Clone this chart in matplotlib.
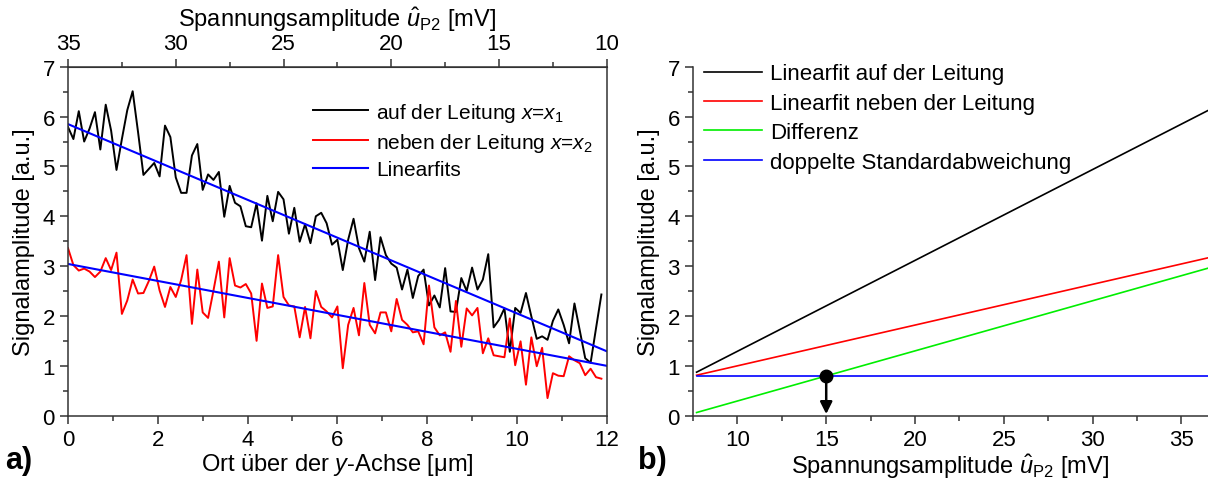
import numpy as np
import matplotlib
matplotlib.use("Agg")
import matplotlib.pyplot as plt
from matplotlib.ticker import MultipleLocator

plt.rcParams['font.family'] = ['Liberation Sans', 'DejaVu Sans']
plt.rcParams['mathtext.fontset'] = 'custom'
plt.rcParams['mathtext.rm'] = 'Liberation Sans'
plt.rcParams['mathtext.it'] = 'Liberation Sans:italic'

# position along y axis [um], step 0.12
pos_step = 0.12
# signal on the line (x = x1)
signal_on = [5.79, 5.55, 6.11, 5.50, 5.76, 6.09, 5.34, 6.24, 5.72, 4.93,
             5.55, 6.13, 6.51, 5.69, 4.83, 4.95, 5.07, 4.80, 5.82, 5.59,
             4.78, 4.47, 4.47, 5.22, 5.45, 4.53, 4.84, 4.73, 4.89, 3.99,
             4.61, 4.27, 4.20, 3.80, 3.78, 4.26, 3.51, 4.41, 3.90, 4.49,
             4.34, 3.65, 4.17, 3.49, 3.84, 3.46, 4.00, 4.07, 3.86, 3.43,
             3.53, 2.92, 3.53, 3.95, 3.36, 3.09, 3.69, 2.72, 3.58, 3.22,
             3.05, 2.97, 2.53, 2.93, 2.36, 2.80, 2.93, 2.21, 2.41, 2.17,
             2.96, 2.09, 2.08, 2.76, 2.50, 2.97, 2.53, 2.73, 3.24, 1.77,
             1.92, 2.15, 1.28, 2.16, 2.06, 2.46, 1.99, 1.54, 1.59, 1.52,
             1.90, 2.13, 1.82, 1.45, 2.25, 1.70, 1.15, 1.06, 1.75, 2.43]
# signal next to the line (x = x2)
signal_off = [3.36, 3.02, 2.91, 2.95, 2.89, 2.78, 2.89, 3.16, 2.92, 3.27,
              2.04, 2.31, 2.73, 2.45, 2.46, 2.70, 2.99, 2.51, 2.18, 2.58,
              2.38, 2.72, 3.22, 1.84, 2.93, 2.07, 1.96, 2.51, 3.09, 1.97,
              3.16, 2.61, 2.57, 2.64, 2.45, 1.50, 2.65, 2.16, 2.19, 3.22,
              2.38, 2.21, 2.19, 1.57, 2.18, 1.55, 2.50, 2.18, 2.09, 1.97,
              2.19, 0.95, 1.82, 2.16, 1.61, 2.66, 1.82, 1.65, 2.07, 2.07,
              1.69, 2.34, 1.92, 1.82, 1.67, 1.69, 1.43, 2.61, 1.77, 1.61,
              1.67, 1.28, 2.30, 1.38, 2.15, 2.01, 2.16, 1.25, 1.55, 1.21,
              1.19, 1.17, 1.95, 1.01, 1.49, 0.62, 1.57, 0.99, 1.36, 0.35,
              0.85, 0.80, 0.79, 1.19, 1.11, 1.05, 0.81, 0.94, 0.77, 0.74]

# linear fits vs voltage amplitude (slope, intercept)
fit_on = (0.1824, -0.534)
fit_off = (0.0818, 0.18)
threshold = 0.8          # twice the standard deviation
u_detect = 15.0

# voltage <-> position mapping (35 mV at 0 um, 10 mV at 12 um)
def pos2u(x):
    return 35 - 25 / 12 * np.asarray(x)

def u2pos(u):
    return (35 - np.asarray(u)) * 12 / 25

pos = np.arange(len(signal_on)) * pos_step

fig = plt.figure(figsize=(12.08, 4.81), dpi=100)
ax1 = fig.add_axes([0.0563, 0.134, 0.446, 0.725])
ax2 = fig.add_axes([0.5737, 0.134, 0.4263, 0.725])

fs = 16      # ticks
labfs = 17   # axis labels

def style_ticks(a):
    a.tick_params(which='both', direction='out', labelsize=fs, color='#333333', width=1.1)
    a.tick_params(which='major', length=6)
    a.tick_params(which='minor', length=3.5)

# ---- a)
ax1.plot(pos, signal_on, color='black', lw=1.4, label='auf der Leitung $x$=$x_1$')
ax1.plot(pos, signal_off, color='red', lw=1.4, label='neben der Leitung $x$=$x_2$')
xf = np.array([0, 12])
ax1.plot(xf, fit_on[0] * pos2u(xf) + fit_on[1], color='blue', lw=1.5, label='Linearfits')
ax1.plot(xf, fit_off[0] * pos2u(xf) + fit_off[1], color='blue', lw=1.5)
ax1.set_xlim(0, 12)
ax1.set_ylim(0, 7)
ax1.xaxis.set_major_locator(MultipleLocator(2))
ax1.xaxis.set_minor_locator(MultipleLocator(1))
ax1.yaxis.set_major_locator(MultipleLocator(1))
ax1.yaxis.set_minor_locator(MultipleLocator(0.5))
style_ticks(ax1)
ax1.set_xlabel('Ort über der $y$-Achse [μm]', fontsize=labfs, labelpad=1)
ax1.set_ylabel('Signalamplitude [a.u.]', fontsize=labfs, labelpad=5)
for s in ax1.spines.values():
    s.set_color('#333333')
    s.set_linewidth(1.1)
top = ax1.secondary_xaxis('top', functions=(pos2u, u2pos))
top.set_xticks([35, 30, 25, 20, 15, 10])
top.set_xticks([32.5, 27.5, 22.5, 17.5, 12.5], minor=True)
style_ticks(top)
top.spines['top'].set_color('#333333')
top.set_xlabel(r'Spannungsamplitude $\hat{u}_{\mathrm{P2}}$ [mV]', fontsize=labfs, labelpad=5)
ax1.legend(loc='upper left', bbox_to_anchor=(0.455, 0.903), frameon=False, fontsize=15,
           handlelength=2.65, handletextpad=0.38, labelspacing=0.33, borderaxespad=0, borderpad=0)

# ---- b)
u = np.array([7.7, 37.0])
on = fit_on[0] * u + fit_on[1]
off = fit_off[0] * u + fit_off[1]
ax2.plot(u, on, color='black', lw=1.2, label='Linearfit auf der Leitung')
ax2.plot(u, off, color='red', lw=1.2, label='Linearfit neben der Leitung')
ax2.plot(u, on - off, color='#00ee00', lw=1.2, label='Differenz')
ax2.plot(u, [threshold, threshold], color='blue', lw=1.2, label='doppelte Standardabweichung')
ax2.annotate('', xy=(u_detect, 0.03), xytext=(u_detect, threshold),
             arrowprops=dict(arrowstyle='-|>', color='black', lw=1.8, mutation_scale=18,
                             shrinkA=0, shrinkB=0))
ax2.plot(u_detect, threshold, 'o', color='black', ms=9)
ax2.set_xlim(7.5, 36.5)
ax2.set_ylim(0, 7)
ax2.xaxis.set_major_locator(MultipleLocator(5))
ax2.xaxis.set_minor_locator(MultipleLocator(2.5))
ax2.yaxis.set_major_locator(MultipleLocator(1))
ax2.yaxis.set_minor_locator(MultipleLocator(0.5))
style_ticks(ax2)
ax2.spines['top'].set_visible(False)
ax2.spines['right'].set_visible(False)
for s in ['left', 'bottom']:
    ax2.spines[s].set_color('#333333')
    ax2.spines[s].set_linewidth(1.1)
ax2.set_xlabel(r'Spannungsamplitude $\hat{u}_{\mathrm{P2}}$ [mV]', fontsize=labfs, labelpad=1)
ax2.set_ylabel('Signalamplitude [a.u.]', fontsize=labfs, labelpad=5)
ax2.legend(loc='upper left', bbox_to_anchor=(0.022, 1.01), frameon=False, fontsize=16,
           handlelength=2.6, handletextpad=0.35, labelspacing=0.38, borderaxespad=0, borderpad=0)

fig.text(0.004, 0.025, 'a)', fontsize=22, fontweight='bold')
fig.text(0.528, 0.025, 'b)', fontsize=22, fontweight='bold')

fig.savefig('out.png', dpi=100)
